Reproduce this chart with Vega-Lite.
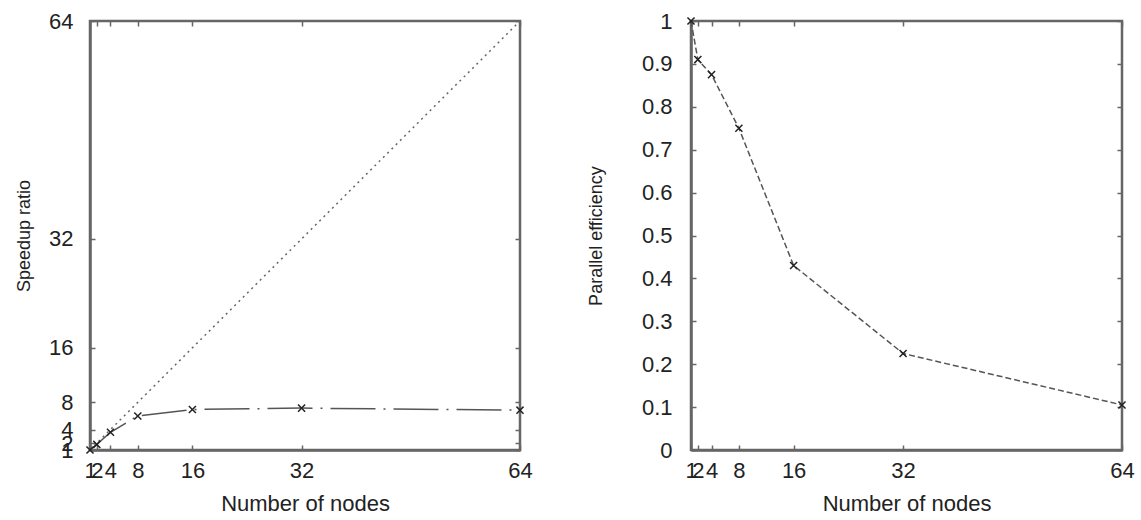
{
  "$schema": "https://vega.github.io/schema/vega-lite/v6.json",
  "background": "white",
  "padding": {"left": 14, "top": 8, "right": 5, "bottom": 2},
  "datasets": {
    "speedup": [
      {"nodes": 1, "value": 1, "series": "measured"},
      {"nodes": 2, "value": 1.82, "series": "measured"},
      {"nodes": 4, "value": 3.6, "series": "measured"},
      {"nodes": 8, "value": 6.0, "series": "measured"},
      {"nodes": 16, "value": 6.95, "series": "measured"},
      {"nodes": 32, "value": 7.15, "series": "measured"},
      {"nodes": 64, "value": 6.85, "series": "measured"},
      {"nodes": 1, "value": 1, "series": "ideal"},
      {"nodes": 64, "value": 64, "series": "ideal"}
    ],
    "efficiency": [
      {"nodes": 1, "value": 1.0},
      {"nodes": 2, "value": 0.91},
      {"nodes": 4, "value": 0.875},
      {"nodes": 8, "value": 0.75},
      {"nodes": 16, "value": 0.43},
      {"nodes": 32, "value": 0.225},
      {"nodes": 64, "value": 0.105}
    ]
  },
  "config": {
    "view": {"stroke": "#666", "strokeWidth": 2.5},
    "axis": {
      "grid": false,
      "domainColor": "#666",
      "domainWidth": 2.5,
      "tickColor": "#666",
      "tickWidth": 1.5,
      "tickSize": -5,
      "labelFont": "Liberation Sans",
      "labelFontSize": 22,
      "labelColor": "#222",
      "labelOverlap": false,
      "labelFlush": false,
      "titleFont": "Liberation Sans",
      "titleFontWeight": "normal",
      "titleColor": "#222"
    },
    "axisX": {"labelPadding": 15, "titlePadding": 12, "titleFontSize": 22},
    "axisY": {"labelPadding": 22, "titleFontSize": 18}
  },
  "spacing": 52,
  "hconcat": [
    {
      "width": 430,
      "height": 429,
      "data": {"name": "speedup"},
      "resolve": {"axis": {"x": "independent", "y": "independent"}},
      "layer": [
        {
          "transform": [{"filter": "datum.series == 'ideal'"}],
          "mark": {"type": "line", "color": "#666", "strokeWidth": 1.5, "strokeDash": [2, 4]},
          "encoding": {
            "x": {"field": "nodes", "type": "quantitative", "scale": {"domain": [1, 64], "nice": false, "zero": false},
                  "axis": {"values": [1, 2, 4, 8, 16, 32, 64], "title": "Number of nodes"}},
            "y": {"field": "value", "type": "quantitative", "scale": {"domain": [1, 64], "nice": false, "zero": false},
                  "axis": {"values": [1, 2, 4, 8, 16, 32, 64], "title": "Speedup ratio", "titlePadding": 15}}
          }
        },
        {
          "transform": [{"filter": "datum.series == 'measured'"}],
          "mark": {"type": "point", "opacity": 0},
          "encoding": {
            "x": {"field": "nodes", "type": "quantitative",
                  "axis": {"orient": "top", "values": [1, 2, 4, 8, 16, 32, 64], "labels": false, "domain": false, "title": null}},
            "y": {"field": "value", "type": "quantitative",
                  "axis": {"orient": "right", "values": [1, 2, 4, 8, 16, 32, 64], "labels": false, "domain": false, "title": null}}
          }
        },
        {
          "transform": [{"filter": "datum.series == 'measured'"}],
          "mark": {"type": "line", "color": "#555", "strokeWidth": 1.5, "strokeDash": [45, 8, 2, 8]},
          "encoding": {
            "x": {"field": "nodes", "type": "quantitative", "axis": null},
            "y": {"field": "value", "type": "quantitative", "axis": null}
          }
        },
        {
          "transform": [{"filter": "datum.series == 'measured'"}],
          "mark": {"type": "point", "shape": "M-1,-1L1,1M-1,1L1,-1", "size": 50, "filled": false, "color": "#222", "strokeWidth": 1.5, "opacity": 1},
          "encoding": {
            "x": {"field": "nodes", "type": "quantitative", "axis": null},
            "y": {"field": "value", "type": "quantitative", "axis": null}
          }
        }
      ]
    },
    {
      "width": 431,
      "height": 429,
      "data": {"name": "efficiency"},
      "resolve": {"axis": {"x": "independent", "y": "independent"}},
      "layer": [
        {
          "mark": {"type": "line", "color": "#555", "strokeWidth": 1.5, "strokeDash": [6, 3]},
          "encoding": {
            "x": {"field": "nodes", "type": "quantitative", "scale": {"domain": [1, 64], "nice": false, "zero": false},
                  "axis": {"values": [1, 2, 4, 8, 16, 32, 64], "title": "Number of nodes"}},
            "y": {"field": "value", "type": "quantitative", "scale": {"domain": [0, 1], "nice": false},
                  "axis": {"values": [0, 0.1, 0.2, 0.3, 0.4, 0.5, 0.6, 0.7, 0.8, 0.9, 1], "format": "~g", "title": "Parallel efficiency", "titlePadding": 36, "labelPadding": 24}}
          }
        },
        {
          "mark": {"type": "point", "opacity": 0},
          "encoding": {
            "x": {"field": "nodes", "type": "quantitative",
                  "axis": {"orient": "top", "values": [1, 2, 4, 8, 16, 32, 64], "labels": false, "domain": false, "title": null}},
            "y": {"field": "value", "type": "quantitative",
                  "axis": {"orient": "right", "values": [0, 0.1, 0.2, 0.3, 0.4, 0.5, 0.6, 0.7, 0.8, 0.9, 1], "labels": false, "domain": false, "title": null}}
          }
        },
        {
          "mark": {"type": "point", "shape": "M-1,-1L1,1M-1,1L1,-1", "size": 50, "filled": false, "color": "#222", "strokeWidth": 1.5, "opacity": 1},
          "encoding": {
            "x": {"field": "nodes", "type": "quantitative", "axis": null},
            "y": {"field": "value", "type": "quantitative", "axis": null}
          }
        }
      ]
    }
  ]
}
